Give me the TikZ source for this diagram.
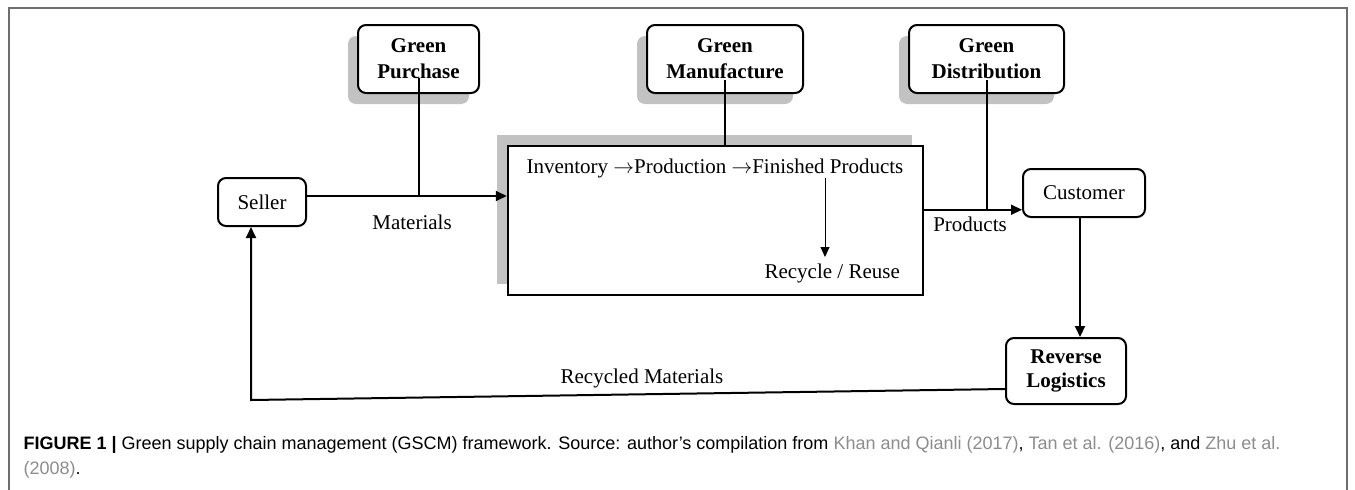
\documentclass[tikz,border=0pt]{standalone}
\usepackage{fontspec}
\setmainfont{Liberation Serif}
\newfontfamily\capfont{Liberation Sans}
\usetikzlibrary{arrows.meta,shadows}
\definecolor{shadowgray}{HTML}{C2C2C2}
\definecolor{framegray}{HTML}{6E6E6E}
\definecolor{citegray}{HTML}{8C8C8C}
\tikzset{
  rbox/.style={draw, rounded corners=8pt, line width=2pt, fill=white, align=center,
    font=\fontsize{21}{26}\selectfont},
  gbox/.style={rbox, font=\bfseries\fontsize{21}{26}\selectfont,
    copy shadow={shadow xshift=-10pt, shadow yshift=-11pt, fill=shadowgray, draw=none}},
  link/.style={line width=2pt},
  arr/.style={link, -{Triangle[length=11pt,width=10pt]}},
  sub/.style={line width=1pt, -{Triangle[length=10pt,width=9pt]}},
  lbl/.style={font=\fontsize{21}{24}\selectfont, anchor=base}
}
\begin{document}
\begin{tikzpicture}[x=1pt,y=-1pt]
  \useasboundingbox (0,0) rectangle (1355,490);
  % frame
  \draw[framegray, line width=1.5pt] (9,490) -- (9,8) -- (1347,8) -- (1347,490);

  % green boxes
  \node[gbox, minimum width=121pt, minimum height=68pt] (gp) at (418.5,59) {Green\\Purchase};
  \node[gbox, minimum width=156pt, minimum height=68pt] (gm) at (725,59) {Green\\Manufacture};
  \node[gbox, minimum width=155pt, minimum height=68pt] (gd) at (986.5,59) {Green\\Distribution};

  % process box
  \node[draw, line width=2.5pt, fill=white, minimum width=415pt, minimum height=149pt,
    copy shadow={shadow xshift=-11pt, shadow yshift=11pt, fill=shadowgray, draw=none}]
    (pm) at (715.5,220.5) {};
  \node[lbl, anchor=base west] (flow) at (523,173) {Inventory $\rightarrow$Production $\rightarrow$Finished Products};
  \node[lbl, anchor=base west] (rr) at (761,278) {Recycle / Reuse};
  \draw[sub] (flow.base west) ++(302,5) -- ++(0,79);

  % actors
  \node[rbox, minimum width=88pt, minimum height=48pt] (se) at (262,202) {Seller};
  \node[rbox, minimum width=122pt, minimum height=48pt] (cu) at (1084,193) {Customer};
  \node[rbox, font=\bfseries\fontsize{21}{24}\selectfont, minimum width=120pt, minimum height=66pt]
    (rl) at (1066,371) {Reverse\\Logistics};

  % flows
  \draw[arr] ([yshift=6pt]se.east) coordinate (min) -- (min -| pm.west);
  \draw[link] ([yshift=-19pt]gp.center) -- (gp.center |- min);
  \node[lbl] (mat) at (412,229) {Materials};

  \draw[link] ([yshift=-21pt]gm.center) -- (gm.center |- pm.north);

  \draw[arr] (pm.north east) ++(0,65) coordinate (pout) -- (pout -| cu.west);
  \draw[link] ([yshift=-21pt]gd.center) -- (gd.center |- pout);
  \node[lbl] (prod) at (970,231) {Products};

  \draw[arr] (cu.south -| 1080,0) -- (rl.north -| 1080,0);
  \coordinate (corner) at (251,400);
  \draw[arr] ([yshift=-18pt]rl.west) -- (corner) -- (corner |- se.south);
  \node[lbl] (rm) at (642,383) {Recycled Materials};

  % caption
  \node[anchor=base west, font=\capfont\fontsize{18}{25}\selectfont, align=left] (cap) at (20,474)
    {\textbf{FIGURE 1 |} Green supply chain management (GSCM) framework. Source: author’s compilation from \textcolor{citegray}{Khan and Qianli (2017)}, \textcolor{citegray}{Tan et al. (2016)}, and \textcolor{citegray}{Zhu et al.}\\\textcolor{citegray}{(2008)}.};
\end{tikzpicture}
\end{document}
